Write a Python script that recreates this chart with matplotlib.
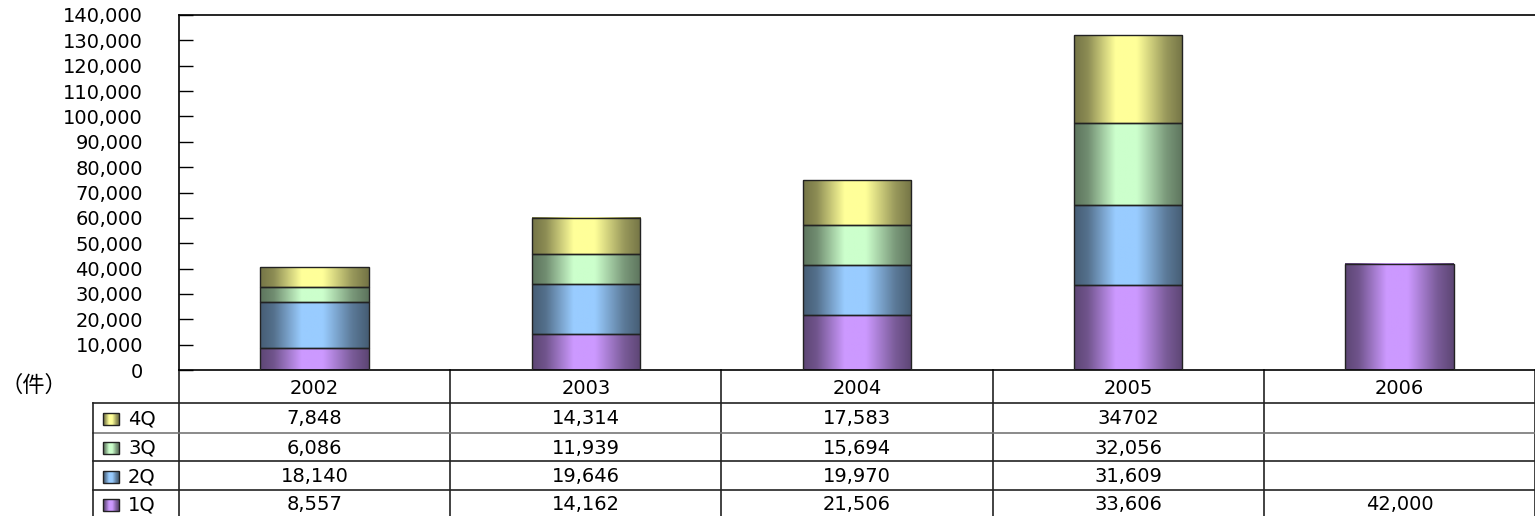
import numpy as np
import matplotlib
matplotlib.use("Agg")
import matplotlib.pyplot as plt
import matplotlib.transforms as mtransforms
from matplotlib.patches import Rectangle
from matplotlib.ticker import FuncFormatter

years = ["2002", "2003", "2004", "2005", "2006"]
q1 = [8557, 14162, 21506, 33606, 42000]
q2 = [18140, 19646, 19970, 31609, 0]
q3 = [6086, 11939, 15694, 32056, 0]
q4 = [7848, 14314, 17583, 34702, 0]
q4_text = ["7,848", "14,314", "17,583", "34702", ""]
quarters = ["1Q", "2Q", "3Q", "4Q"]
colors = ["#cc99ff", "#99ccff", "#ccffcc", "#ffff99"]

plt.rcParams['font.family'] = ['DejaVu Sans', 'Noto Sans CJK JP']


def shade(color):
    # dark edges, light centre, like a cylinder
    c = np.array(matplotlib.colors.to_rgb(color))
    t = np.linspace(0, 1, 64)
    k = np.interp(t, [0, 0.12, 0.38, 0.58, 0.85, 1], [0.46, 0.55, 1.0, 1.0, 0.6, 0.46])
    return (k[:, None] * c[None, :])[None, :, :]


fig = plt.figure(figsize=(15.35, 5.16), dpi=100)
ax = fig.add_axes([179 / 1535, 146 / 516, 1356 / 1535, 355 / 516])

x = np.arange(len(years))
series = [q1, q2, q3, q4]
bottom = np.zeros(len(years))
for vals, col in zip(series, colors):
    vals = np.array(vals, dtype=float)
    bars = ax.bar(x, vals, 0.4, bottom=bottom, facecolor='none',
                  edgecolor='#222222', linewidth=1, zorder=3)
    for b, v in zip(bars, vals):
        if v <= 0:
            b.set_visible(False)
            continue
        bx, by, bw, bh = b.get_x(), b.get_y(), b.get_width(), b.get_height()
        ax.imshow(shade(col), extent=[bx, bx + bw, by, by + bh],
                  aspect='auto', zorder=2, interpolation='bilinear')
    bottom += vals

ax.set_xlim(-0.5, len(years) - 0.5)
ax.set_ylim(0, 140000)
ax.set_yticks(np.arange(0, 140001, 10000))
ax.yaxis.set_major_formatter(FuncFormatter(lambda v, p: f"{int(v):,}"))
ax.tick_params(axis='y', direction='in', length=10, width=1, pad=26, labelsize=14)
ax.set_xticks([])
ax.spines['right'].set_visible(False)
for s in ['left', 'top', 'bottom']:
    ax.spines[s].set_linewidth(1.2)

# data table below the plot
blend = mtransforms.blended_transform_factory(ax.transData, ax.transAxes)
px = 355.0
row_lines = [(370 - 403) / px, (370 - 433) / px, (370 - 461) / px, (370 - 490) / px]
row_mid = [(370 - 388) / px, (370 - 419) / px, (370 - 448) / px, (370 - 477) / px, (370 - 505) / px]
y_bot = (370 - 530) / px
label_left = (93 - 179) / 1356

for xb in np.arange(-0.5, len(years), 1.0):
    ax.plot([xb, xb], [0, y_bot], transform=blend, color='#222222', lw=1.2, clip_on=False)
for i, yl in enumerate(row_lines):
    lc = '#777777' if i == 1 else '#222222'
    ax.plot([label_left, 1], [yl, yl], transform=ax.transAxes, color=lc, lw=1.2, clip_on=False)
ax.plot([label_left, label_left], [row_lines[0], y_bot], transform=ax.transAxes,
        color='#222222', lw=1.2, clip_on=False)

for xi, yr in zip(x, years):
    ax.text(xi, row_mid[0], yr, transform=blend, ha='center', va='center', fontsize=14)

table_rows = [q4_text,
              [f"{v:,}" if v else "" for v in q3],
              [f"{v:,}" if v else "" for v in q2],
              [f"{v:,}" if v else "" for v in q1]]
for r, (vals, name, col) in enumerate(zip(table_rows, quarters[::-1], colors[::-1])):
    ym = row_mid[r + 1]
    for xi, s in zip(x, vals):
        ax.text(xi, ym, s, transform=blend, ha='center', va='center', fontsize=14)
    sx0 = (103 - 179) / 1356
    sx1 = (119 - 179) / 1356
    sh = 12 / px
    ax.imshow(shade(col), extent=[sx0, sx1, ym - sh / 2, ym + sh / 2], transform=ax.transAxes,
              aspect='auto', clip_on=False, zorder=3)
    ax.add_patch(Rectangle((sx0, ym - sh / 2), sx1 - sx0, sh, transform=ax.transAxes,
                           facecolor='none', edgecolor='#222222', lw=1, clip_on=False, zorder=4))
    ax.text((128 - 179) / 1356, ym, name, transform=ax.transAxes, ha='left', va='center',
            fontsize=14)

ax.text((1 - 179) / 1356, (370 - 385) / px, "（件）", transform=ax.transAxes,
        ha='left', va='center', fontsize=16, family=['Noto Sans CJK JP', 'DejaVu Sans'])

ax.set_xlim(-0.5, len(years) - 0.5)
ax.set_ylim(0, 140000)
fig.savefig("out.png", dpi=100)
